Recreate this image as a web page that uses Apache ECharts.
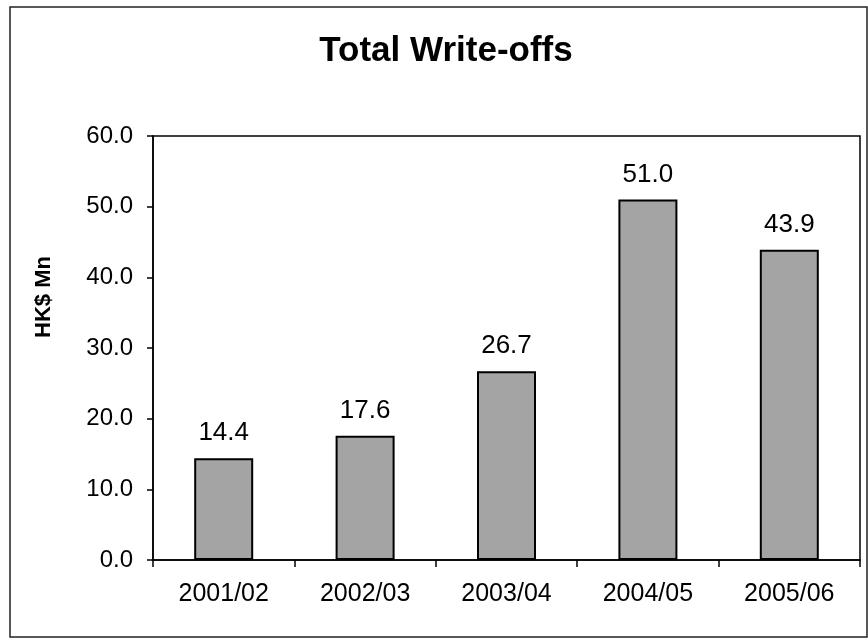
<!DOCTYPE html>
<html>
<head>
<meta charset="utf-8">
<script src="https://cdn.jsdelivr.net/npm/echarts@6/dist/echarts.min.js"></script>
<style>
  html, body { margin: 0; padding: 0; background: #fff; }
  #chart { width: 868px; height: 640px; }
</style>
</head>
<body>
<div id="chart"></div>
<script>
// Annual write-off totals (HK$ million)
const years = ['2001/02', '2002/03', '2003/04', '2004/05', '2005/06'];
const writeOffs = [14.4, 17.6, 26.7, 51.0, 43.9];
const chartTitle = 'Total Write-offs';
const yAxisTitle = 'HK$ Mn';

const FONT = '"Liberation Sans", Arial, Helvetica, sans-serif';

const chart = echarts.init(document.getElementById('chart'), null, { renderer: 'canvas' });

chart.setOption({
  backgroundColor: '#ffffff',
  animation: false,
  grid: {
    left: 153, top: 136, right: 8, bottom: 80,
    show: true,
    borderColor: '#000',
    borderWidth: 1.5,
    backgroundColor: 'transparent'
  },
  graphic: [
    {
      type: 'rect',
      shape: { x: 10, y: 7, width: 857, height: 630 },
      style: { fill: 'none', stroke: '#222', lineWidth: 1.5 },
      silent: true
    },
    {
      type: 'text',
      style: {
        x: 446, y: 51,
        text: chartTitle,
        align: 'center', verticalAlign: 'middle',
        font: 'bold 35px ' + FONT,
        fill: '#000'
      }
    },
    {
      type: 'text',
      x: 44, y: 297,
      rotation: Math.PI / 2,
      style: {
        x: 0, y: 0,
        text: yAxisTitle,
        align: 'center', verticalAlign: 'middle',
        font: 'bold 22px ' + FONT,
        fill: '#000'
      }
    }
  ],
  xAxis: {
    type: 'category',
    data: years,
    axisLine: { lineStyle: { color: '#000', width: 1.5 } },
    axisTick: { show: true, length: 7, alignWithLabel: false, lineStyle: { color: '#000', width: 1.5 } },
    axisLabel: {
      color: '#000',
      fontFamily: FONT,
      fontSize: 25,
      margin: 22
    },
    splitLine: { show: false }
  },
  yAxis: {
    type: 'value',
    min: 0, max: 60, interval: 10,
    axisLine: { show: true, lineStyle: { color: '#000', width: 1.5 } },
    axisTick: { show: true, length: 6, lineStyle: { color: '#000', width: 1.5 } },
    axisLabel: {
      color: '#000',
      fontFamily: FONT,
      fontSize: 24,
      margin: 20,
      formatter: v => v.toFixed(1)
    },
    splitLine: { show: false }
  },
  series: [{
    type: 'bar',
    data: writeOffs,
    barWidth: 59,
    itemStyle: {
      color: '#a4a4a4',
      borderColor: '#000',
      borderWidth: 2
    },
    label: {
      show: true,
      position: 'top',
      distance: 12,
      color: '#000',
      fontFamily: FONT,
      fontSize: 26,
      formatter: p => p.value.toFixed(1)
    }
  }]
});
</script>
</body>
</html>
